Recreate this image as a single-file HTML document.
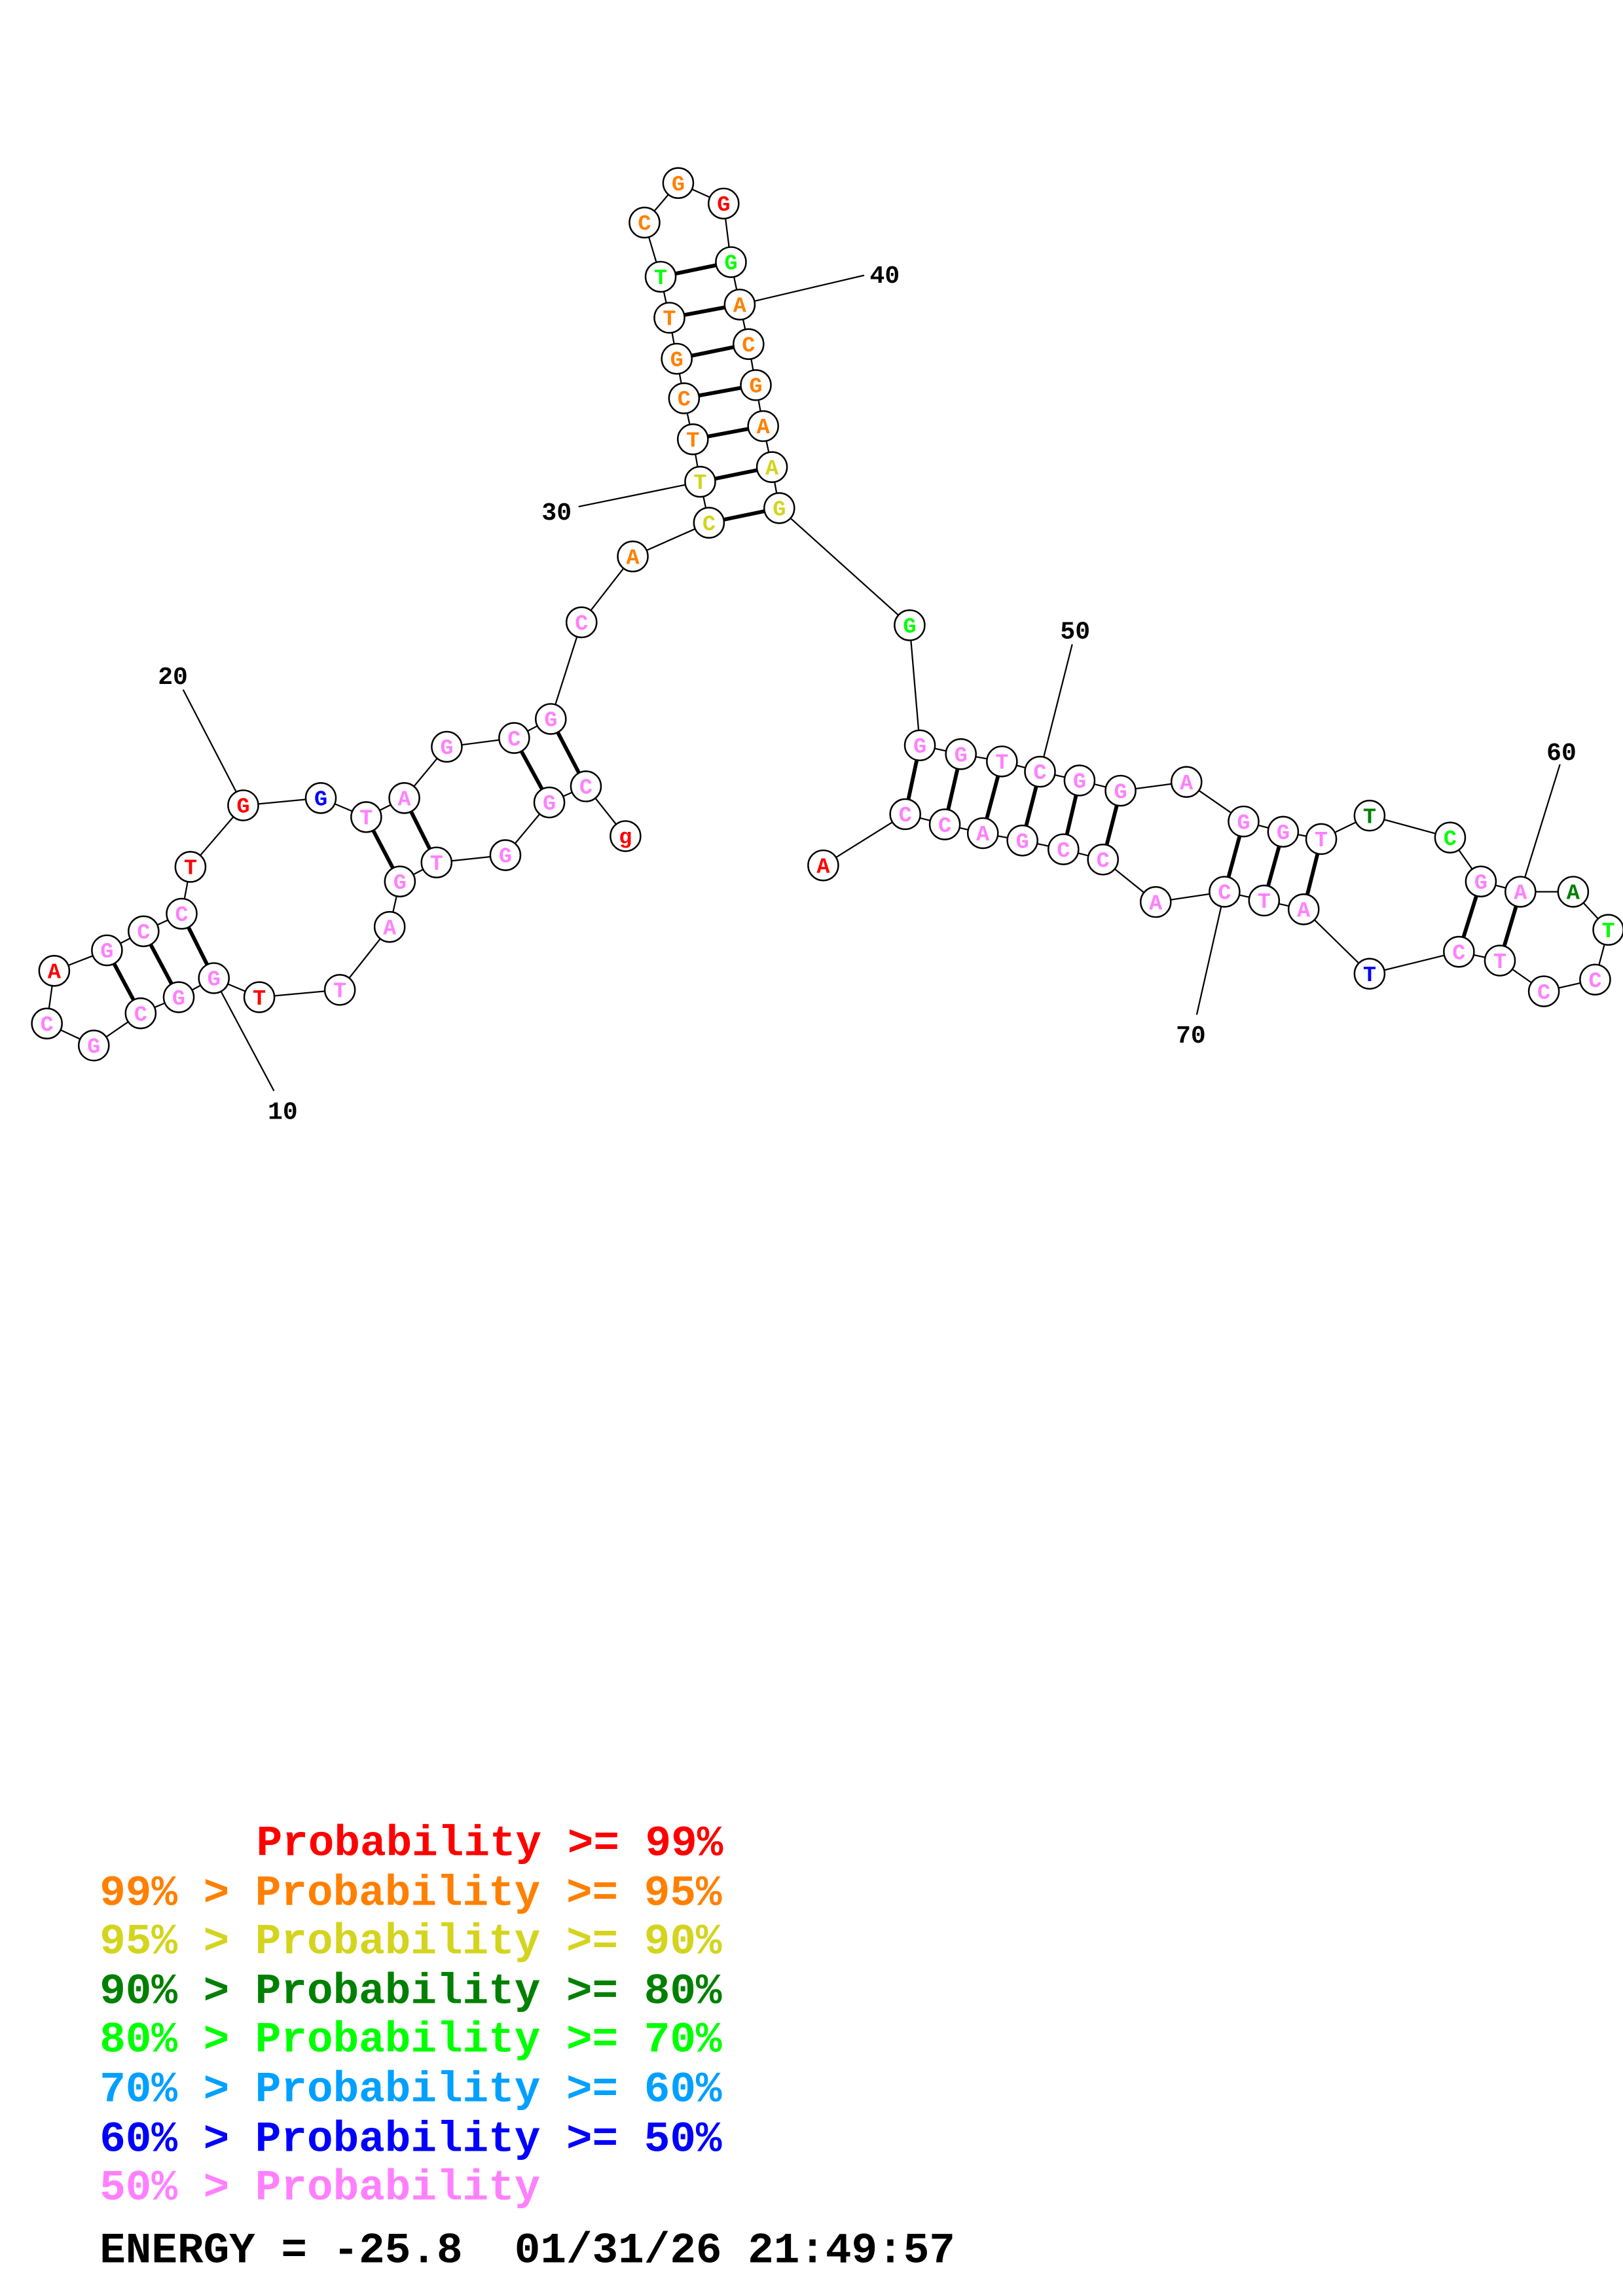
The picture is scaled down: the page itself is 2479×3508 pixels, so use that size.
<!DOCTYPE html>
<html><head><meta charset="utf-8"><style>
html,body{margin:0;padding:0;background:#fff;}
svg{display:block;}
circle{fill:#fff;stroke:#000;stroke-width:1.1;}
.n{font-family:"Liberation Mono",monospace;font-weight:bold;font-size:15px;text-anchor:middle;}
.l{font-family:"Liberation Mono",monospace;font-weight:bold;font-size:17px;text-anchor:middle;fill:#000;}
.r{fill:#ff0000}.o{fill:#ff8000}.y{fill:#d4d41e}.d{fill:#008000}.g{fill:#00ff00}.b{fill:#0000ff}.p{fill:#ff80ff}
.pr line{stroke:#000;stroke-width:2.6}
.lb line{stroke:#000;stroke-width:1}
</style></head><body>
<svg xmlns="http://www.w3.org/2000/svg" width="2479" height="3508" viewBox="0 0 1108 1568">
<rect width="1108" height="1568" fill="#fff"/>
<polyline fill="none" stroke="#000" stroke-width="1" points="427,571 400,537 375,548 345,584 298,589 273,602 266,633 232,676 177,681 146,668 122,681 96,692 64,714 32,699 37,663 73,649 98,636 124,624 130,592 166,550 219,545 250,558 276,545 305,510 351,504 376,491 397,425 432,380 484,357 478,329 473,300 467,272 462,245 457,217 451,189 440,152 463,125 494,139 499,179 505,208 511,235 516,263 521,291 527,319 532,347 621,427 628,509 656,515 684,520 710,527 737,533 765,540 810,534 849,561 876,568 902,573 935,557 990,572 1011,602 1038,609 1074,609 1098,635 1089,669 1054,677 1024,656 996,650 935,665 890,621 863,615 836,609 789,616 753,587 726,580 698,574 671,569 645,563 618,556 562,591"/>
<g class="pr">
<line x1="400" y1="537" x2="376" y2="491"/>
<line x1="375" y1="548" x2="351" y2="504"/>
<line x1="298" y1="589" x2="276" y2="545"/>
<line x1="273" y1="602" x2="250" y2="558"/>
<line x1="146" y1="668" x2="124" y2="624"/>
<line x1="122" y1="681" x2="98" y2="636"/>
<line x1="96" y1="692" x2="73" y2="649"/>
<line x1="484" y1="357" x2="532" y2="347"/>
<line x1="478" y1="329" x2="527" y2="319"/>
<line x1="473" y1="300" x2="521" y2="291"/>
<line x1="467" y1="272" x2="516" y2="263"/>
<line x1="462" y1="245" x2="511" y2="235"/>
<line x1="457" y1="217" x2="505" y2="208"/>
<line x1="451" y1="189" x2="499" y2="179"/>
<line x1="628" y1="509" x2="618" y2="556"/>
<line x1="656" y1="515" x2="645" y2="563"/>
<line x1="684" y1="520" x2="671" y2="569"/>
<line x1="710" y1="527" x2="698" y2="574"/>
<line x1="737" y1="533" x2="726" y2="580"/>
<line x1="765" y1="540" x2="753" y2="587"/>
<line x1="849" y1="561" x2="836" y2="609"/>
<line x1="876" y1="568" x2="863" y2="615"/>
<line x1="902" y1="573" x2="890" y2="621"/>
<line x1="1011" y1="602" x2="996" y2="650"/>
<line x1="1038" y1="609" x2="1024" y2="656"/>
</g>
<g class="lb">
<line x1="146" y1="668" x2="187" y2="745"/>
<line x1="166" y1="550" x2="125" y2="471"/>
<line x1="478" y1="329" x2="395" y2="346"/>
<line x1="505" y1="208" x2="590" y2="188"/>
<line x1="710" y1="527" x2="732" y2="440"/>
<line x1="1038" y1="609" x2="1065" y2="522"/>
<line x1="836" y1="609" x2="817" y2="693"/>
</g>
<text class="l" x="193" y="764">10</text>
<text class="l" x="118" y="467">20</text>
<text class="l" x="380" y="355">30</text>
<text class="l" x="604" y="193">40</text>
<text class="l" x="734" y="436">50</text>
<text class="l" x="1066" y="519">60</text>
<text class="l" x="813" y="712">70</text>
<g>
<circle cx="427" cy="571" r="10.3"/><text class="n r" x="427" y="576">g</text>
<circle cx="400" cy="537" r="10.3"/><text class="n p" x="400" y="542">C</text>
<circle cx="375" cy="548" r="10.3"/><text class="n p" x="375" y="553">G</text>
<circle cx="345" cy="584" r="10.3"/><text class="n p" x="345" y="589">G</text>
<circle cx="298" cy="589" r="10.3"/><text class="n p" x="298" y="594">T</text>
<circle cx="273" cy="602" r="10.3"/><text class="n p" x="273" y="607">G</text>
<circle cx="266" cy="633" r="10.3"/><text class="n p" x="266" y="638">A</text>
<circle cx="232" cy="676" r="10.3"/><text class="n p" x="232" y="681">T</text>
<circle cx="177" cy="681" r="10.3"/><text class="n r" x="177" y="686">T</text>
<circle cx="146" cy="668" r="10.3"/><text class="n p" x="146" y="673">G</text>
<circle cx="122" cy="681" r="10.3"/><text class="n p" x="122" y="686">G</text>
<circle cx="96" cy="692" r="10.3"/><text class="n p" x="96" y="697">C</text>
<circle cx="64" cy="714" r="10.3"/><text class="n p" x="64" y="719">G</text>
<circle cx="32" cy="699" r="10.3"/><text class="n p" x="32" y="704">C</text>
<circle cx="37" cy="663" r="10.3"/><text class="n r" x="37" y="668">A</text>
<circle cx="73" cy="649" r="10.3"/><text class="n p" x="73" y="654">G</text>
<circle cx="98" cy="636" r="10.3"/><text class="n p" x="98" y="641">C</text>
<circle cx="124" cy="624" r="10.3"/><text class="n p" x="124" y="629">C</text>
<circle cx="130" cy="592" r="10.3"/><text class="n r" x="130" y="597">T</text>
<circle cx="166" cy="550" r="10.3"/><text class="n r" x="166" y="555">G</text>
<circle cx="219" cy="545" r="10.3"/><text class="n b" x="219" y="550">G</text>
<circle cx="250" cy="558" r="10.3"/><text class="n p" x="250" y="563">T</text>
<circle cx="276" cy="545" r="10.3"/><text class="n p" x="276" y="550">A</text>
<circle cx="305" cy="510" r="10.3"/><text class="n p" x="305" y="515">G</text>
<circle cx="351" cy="504" r="10.3"/><text class="n p" x="351" y="509">C</text>
<circle cx="376" cy="491" r="10.3"/><text class="n p" x="376" y="496">G</text>
<circle cx="397" cy="425" r="10.3"/><text class="n p" x="397" y="430">C</text>
<circle cx="432" cy="380" r="10.3"/><text class="n o" x="432" y="385">A</text>
<circle cx="484" cy="357" r="10.3"/><text class="n y" x="484" y="362">C</text>
<circle cx="478" cy="329" r="10.3"/><text class="n y" x="478" y="334">T</text>
<circle cx="473" cy="300" r="10.3"/><text class="n o" x="473" y="305">T</text>
<circle cx="467" cy="272" r="10.3"/><text class="n o" x="467" y="277">C</text>
<circle cx="462" cy="245" r="10.3"/><text class="n o" x="462" y="250">G</text>
<circle cx="457" cy="217" r="10.3"/><text class="n o" x="457" y="222">T</text>
<circle cx="451" cy="189" r="10.3"/><text class="n g" x="451" y="194">T</text>
<circle cx="440" cy="152" r="10.3"/><text class="n o" x="440" y="157">C</text>
<circle cx="463" cy="125" r="10.3"/><text class="n o" x="463" y="130">G</text>
<circle cx="494" cy="139" r="10.3"/><text class="n r" x="494" y="144">G</text>
<circle cx="499" cy="179" r="10.3"/><text class="n g" x="499" y="184">G</text>
<circle cx="505" cy="208" r="10.3"/><text class="n o" x="505" y="213">A</text>
<circle cx="511" cy="235" r="10.3"/><text class="n o" x="511" y="240">C</text>
<circle cx="516" cy="263" r="10.3"/><text class="n o" x="516" y="268">G</text>
<circle cx="521" cy="291" r="10.3"/><text class="n o" x="521" y="296">A</text>
<circle cx="527" cy="319" r="10.3"/><text class="n y" x="527" y="324">A</text>
<circle cx="532" cy="347" r="10.3"/><text class="n y" x="532" y="352">G</text>
<circle cx="621" cy="427" r="10.3"/><text class="n g" x="621" y="432">G</text>
<circle cx="628" cy="509" r="10.3"/><text class="n p" x="628" y="514">G</text>
<circle cx="656" cy="515" r="10.3"/><text class="n p" x="656" y="520">G</text>
<circle cx="684" cy="520" r="10.3"/><text class="n p" x="684" y="525">T</text>
<circle cx="710" cy="527" r="10.3"/><text class="n p" x="710" y="532">C</text>
<circle cx="737" cy="533" r="10.3"/><text class="n p" x="737" y="538">G</text>
<circle cx="765" cy="540" r="10.3"/><text class="n p" x="765" y="545">G</text>
<circle cx="810" cy="534" r="10.3"/><text class="n p" x="810" y="539">A</text>
<circle cx="849" cy="561" r="10.3"/><text class="n p" x="849" y="566">G</text>
<circle cx="876" cy="568" r="10.3"/><text class="n p" x="876" y="573">G</text>
<circle cx="902" cy="573" r="10.3"/><text class="n p" x="902" y="578">T</text>
<circle cx="935" cy="557" r="10.3"/><text class="n d" x="935" y="562">T</text>
<circle cx="990" cy="572" r="10.3"/><text class="n g" x="990" y="577">C</text>
<circle cx="1011" cy="602" r="10.3"/><text class="n p" x="1011" y="607">G</text>
<circle cx="1038" cy="609" r="10.3"/><text class="n p" x="1038" y="614">A</text>
<circle cx="1074" cy="609" r="10.3"/><text class="n d" x="1074" y="614">A</text>
<circle cx="1098" cy="635" r="10.3"/><text class="n g" x="1098" y="640">T</text>
<circle cx="1089" cy="669" r="10.3"/><text class="n p" x="1089" y="674">C</text>
<circle cx="1054" cy="677" r="10.3"/><text class="n p" x="1054" y="682">C</text>
<circle cx="1024" cy="656" r="10.3"/><text class="n p" x="1024" y="661">T</text>
<circle cx="996" cy="650" r="10.3"/><text class="n p" x="996" y="655">C</text>
<circle cx="935" cy="665" r="10.3"/><text class="n b" x="935" y="670">T</text>
<circle cx="890" cy="621" r="10.3"/><text class="n p" x="890" y="626">A</text>
<circle cx="863" cy="615" r="10.3"/><text class="n p" x="863" y="620">T</text>
<circle cx="836" cy="609" r="10.3"/><text class="n p" x="836" y="614">C</text>
<circle cx="789" cy="616" r="10.3"/><text class="n p" x="789" y="621">A</text>
<circle cx="753" cy="587" r="10.3"/><text class="n p" x="753" y="592">C</text>
<circle cx="726" cy="580" r="10.3"/><text class="n p" x="726" y="585">C</text>
<circle cx="698" cy="574" r="10.3"/><text class="n p" x="698" y="579">G</text>
<circle cx="671" cy="569" r="10.3"/><text class="n p" x="671" y="574">A</text>
<circle cx="645" cy="563" r="10.3"/><text class="n p" x="645" y="568">C</text>
<circle cx="618" cy="556" r="10.3"/><text class="n p" x="618" y="561">C</text>
<circle cx="562" cy="591" r="10.3"/><text class="n r" x="562" y="596">A</text>
</g>
<g font-family="'Liberation Mono', monospace" font-weight="bold" font-size="29.5" style="white-space:pre">
<text x="175" y="1267" fill="#ff0000">Probability &gt;= 99%</text>
<text x="68" y="1301" fill="#ff8000">99% &gt; Probability &gt;= 95%</text>
<text x="68" y="1334" fill="#d4d41e">95% &gt; Probability &gt;= 90%</text>
<text x="68" y="1368" fill="#008000">90% &gt; Probability &gt;= 80%</text>
<text x="68" y="1401" fill="#00ff00">80% &gt; Probability &gt;= 70%</text>
<text x="68" y="1435" fill="#00a0ff">70% &gt; Probability &gt;= 60%</text>
<text x="68" y="1469" fill="#0000ff">60% &gt; Probability &gt;= 50%</text>
<text x="68" y="1502" fill="#ff80ff">50% &gt; Probability</text>
<text x="68" y="1545" fill="#000" xml:space="preserve">ENERGY = -25.8  01/31/26 21:49:57</text>
</g>
</svg>
</body></html>
